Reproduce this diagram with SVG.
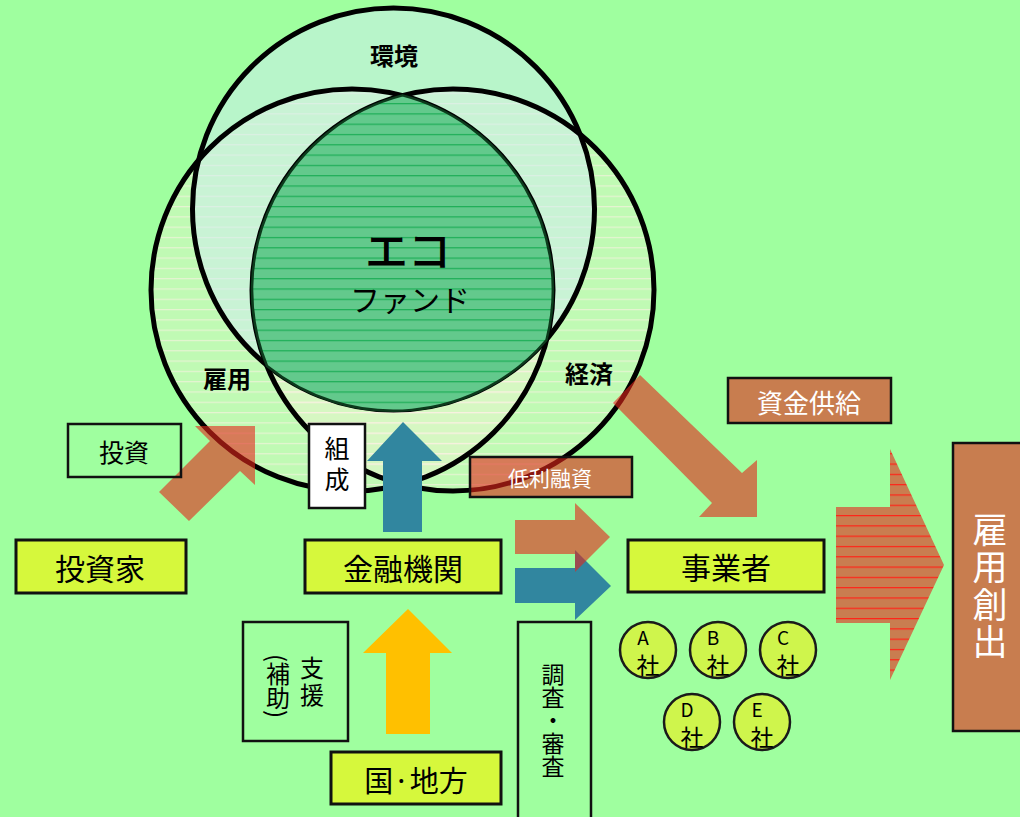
<svg xmlns="http://www.w3.org/2000/svg" width="1020" height="817" viewBox="0 0 1020 817">
<defs>
<style>
.t{font-family:"Noto Sans CJK JP","Noto Sans CJK SC",sans-serif;fill:#000;text-anchor:middle;dominant-baseline:central}
.v{writing-mode:vertical-rl;dominant-baseline:auto}
.w{fill:#fff}
.b{font-weight:bold}
.box{fill:none;stroke:#111;stroke-width:2.5}
.ybox{fill:#d6f83c;stroke:#111;stroke-width:3}
.rbox{fill:#e4261b;fill-opacity:.6;stroke:#111;stroke-width:2.5}
.wbox{fill:#fff;stroke:#111;stroke-width:2.5}
.circ{fill:none;stroke:#000;stroke-width:5}
.red{fill:#e4261b;fill-opacity:.6}
.teal{fill:#31869f}
.co{fill:#cff54c;stroke:#1a1a1a;stroke-width:2.5}
</style>
<pattern id="ecoLines" patternUnits="userSpaceOnUse" width="20" height="10.3"><rect width="20" height="10.3" fill="#63c98c"/><line x1="0" y1="0.6" x2="20" y2="0.6" stroke="#1fae58" stroke-width="1.3"/></pattern>
<pattern id="circLines" patternUnits="userSpaceOnUse" width="20" height="10.3"><line x1="0" y1="0.6" x2="20" y2="0.6" stroke="#fff0e6" stroke-opacity=".6" stroke-width="1.2"/></pattern>
<pattern id="arrowLines" patternUnits="userSpaceOnUse" width="20" height="10.3"><rect width="20" height="10.3" fill="#c97d50"/><line x1="0" y1="0.6" x2="20" y2="0.6" stroke="#ff2418" stroke-width="1.2"/></pattern>
</defs>
<rect width="1020" height="817" fill="#9fff9f"/>

<g id="venn">
<circle cx="352" cy="290" r="201" fill="#fff0dc" fill-opacity=".35"/>
<circle cx="453" cy="290" r="201" fill="#fff0dc" fill-opacity=".35"/>
<circle cx="352" cy="290" r="201" fill="url(#circLines)"/>
<circle cx="453" cy="290" r="201" fill="url(#circLines)"/>
<circle cx="393.5" cy="209" r="201" fill="#d2ebf5" fill-opacity=".5"/>
<circle class="circ" cx="352" cy="290" r="201"/>
<circle class="circ" cx="453" cy="290" r="201"/>
<circle class="circ" cx="393.5" cy="209" r="201"/>
<text class="t b" x="394" y="54" font-size="24">環境</text>
<text class="t b" x="227" y="377" font-size="24">雇用</text>
<text class="t b" x="589" y="372" font-size="24">経済</text>
</g>

<g id="eco">
<path d="M402.5 95.4 A201 201 0 0 0 267 366 A201 201 0 0 0 546.5 340 A201 201 0 0 0 402.5 95.4 Z" fill="url(#ecoLines)" stroke="#0c3a1c" stroke-width="2.5"/>
<text class="t" x="408" y="248" font-size="43" font-weight="500">エコ</text>
<text class="t" x="410" y="298" font-size="30">ファンド</text>
</g>

<g id="connectors">
<polygon class="red" points="255,426 255,485 240,471 189,521 159,492 210,441 195,426"/>
<polygon class="red" points="640,375 742,473 757,460 757,517 699,517 712,503 613,403"/>
<polygon class="teal" points="383,532 383,461 367,461 403,422 442,461 422,461 422,532"/>
<polygon points="386,734 386,653 363,653 408,609 452,653 430,653 430,734" fill="#ffc000"/>
<polygon class="teal" points="515,568 575,568 575,550 611,586 575,620 575,603 515,603"/>
<polygon class="red" points="515,520 575,520 575,503 610,537 575,572 575,554 515,554"/>
<polygon points="836,507 890,507 890,449 944,565 890,680 890,623 836,623" fill="url(#arrowLines)"/>
</g>

<g id="toushi">
<rect class="box" x="68" y="424" width="113" height="53"/>
<text class="t" x="124" y="451" font-size="25">投資</text>
</g>
<g id="toushika">
<rect class="ybox" x="16" y="540" width="170" height="53"/>
<text class="t" x="100" y="567" font-size="30">投資家</text>
</g>
<g id="sosei">
<rect class="wbox" x="309" y="424" width="56" height="84"/>
<text class="t v" x="337" y="467" font-size="25" letter-spacing="6">組成</text>
</g>
<g id="kinyu">
<rect class="ybox" x="305" y="540" width="196" height="53"/>
<text class="t" x="403" y="567" font-size="30">金融機関</text>
</g>
<g id="teiri">
<rect class="rbox" x="470" y="457" width="162" height="40"/>
<text class="t w" x="550" y="477" font-size="21">低利融資</text>
</g>
<g id="shikin">
<rect class="rbox" x="728" y="378" width="163" height="45"/>
<text class="t w" x="809" y="401" font-size="26">資金供給</text>
</g>
<g id="jigyo">
<rect class="ybox" x="628" y="540" width="196" height="52"/>
<text class="t" x="726" y="566" font-size="30">事業者</text>
</g>
<g id="koyou">
<rect class="rbox" x="953" y="443" width="80" height="288"/>
<text class="t w v" x="990" y="587" font-size="35" letter-spacing="2.5">雇用創出</text>
</g>
<g id="hojo">
<rect class="box" x="243" y="622" width="105" height="119"/>
<text class="t v" x="312" y="683" font-size="24" letter-spacing="3">支援</text>
<text class="t v" x="278" y="686" font-size="24">(補助)</text>
</g>
<g id="kuni">
<rect class="ybox" x="331" y="752" width="170" height="52"/>
<text class="t" x="416" y="779" font-size="29">国·地方</text>
</g>
<g id="chousa">
<rect class="box" x="518" y="622" width="73" height="210"/>
<text class="t v" x="553" y="720" font-size="23">調査・審査</text>
</g>
<g id="companyA"><circle class="co" cx="648" cy="650" r="28"/><text class="t" x="643" y="636" font-size="19">A</text><text class="t" x="648" y="664" font-size="23">社</text></g>
<g id="companyB"><circle class="co" cx="718" cy="650" r="28"/><text class="t" x="713" y="636" font-size="19">B</text><text class="t" x="718" y="664" font-size="23">社</text></g>
<g id="companyC"><circle class="co" cx="788" cy="650" r="28"/><text class="t" x="783" y="636" font-size="19">C</text><text class="t" x="788" y="664" font-size="23">社</text></g>
<g id="companyD"><circle class="co" cx="692" cy="722" r="28"/><text class="t" x="687" y="708" font-size="19">D</text><text class="t" x="692" y="736" font-size="23">社</text></g>
<g id="companyE"><circle class="co" cx="762" cy="722" r="28"/><text class="t" x="757" y="708" font-size="19">E</text><text class="t" x="762" y="736" font-size="23">社</text></g>
</svg>
